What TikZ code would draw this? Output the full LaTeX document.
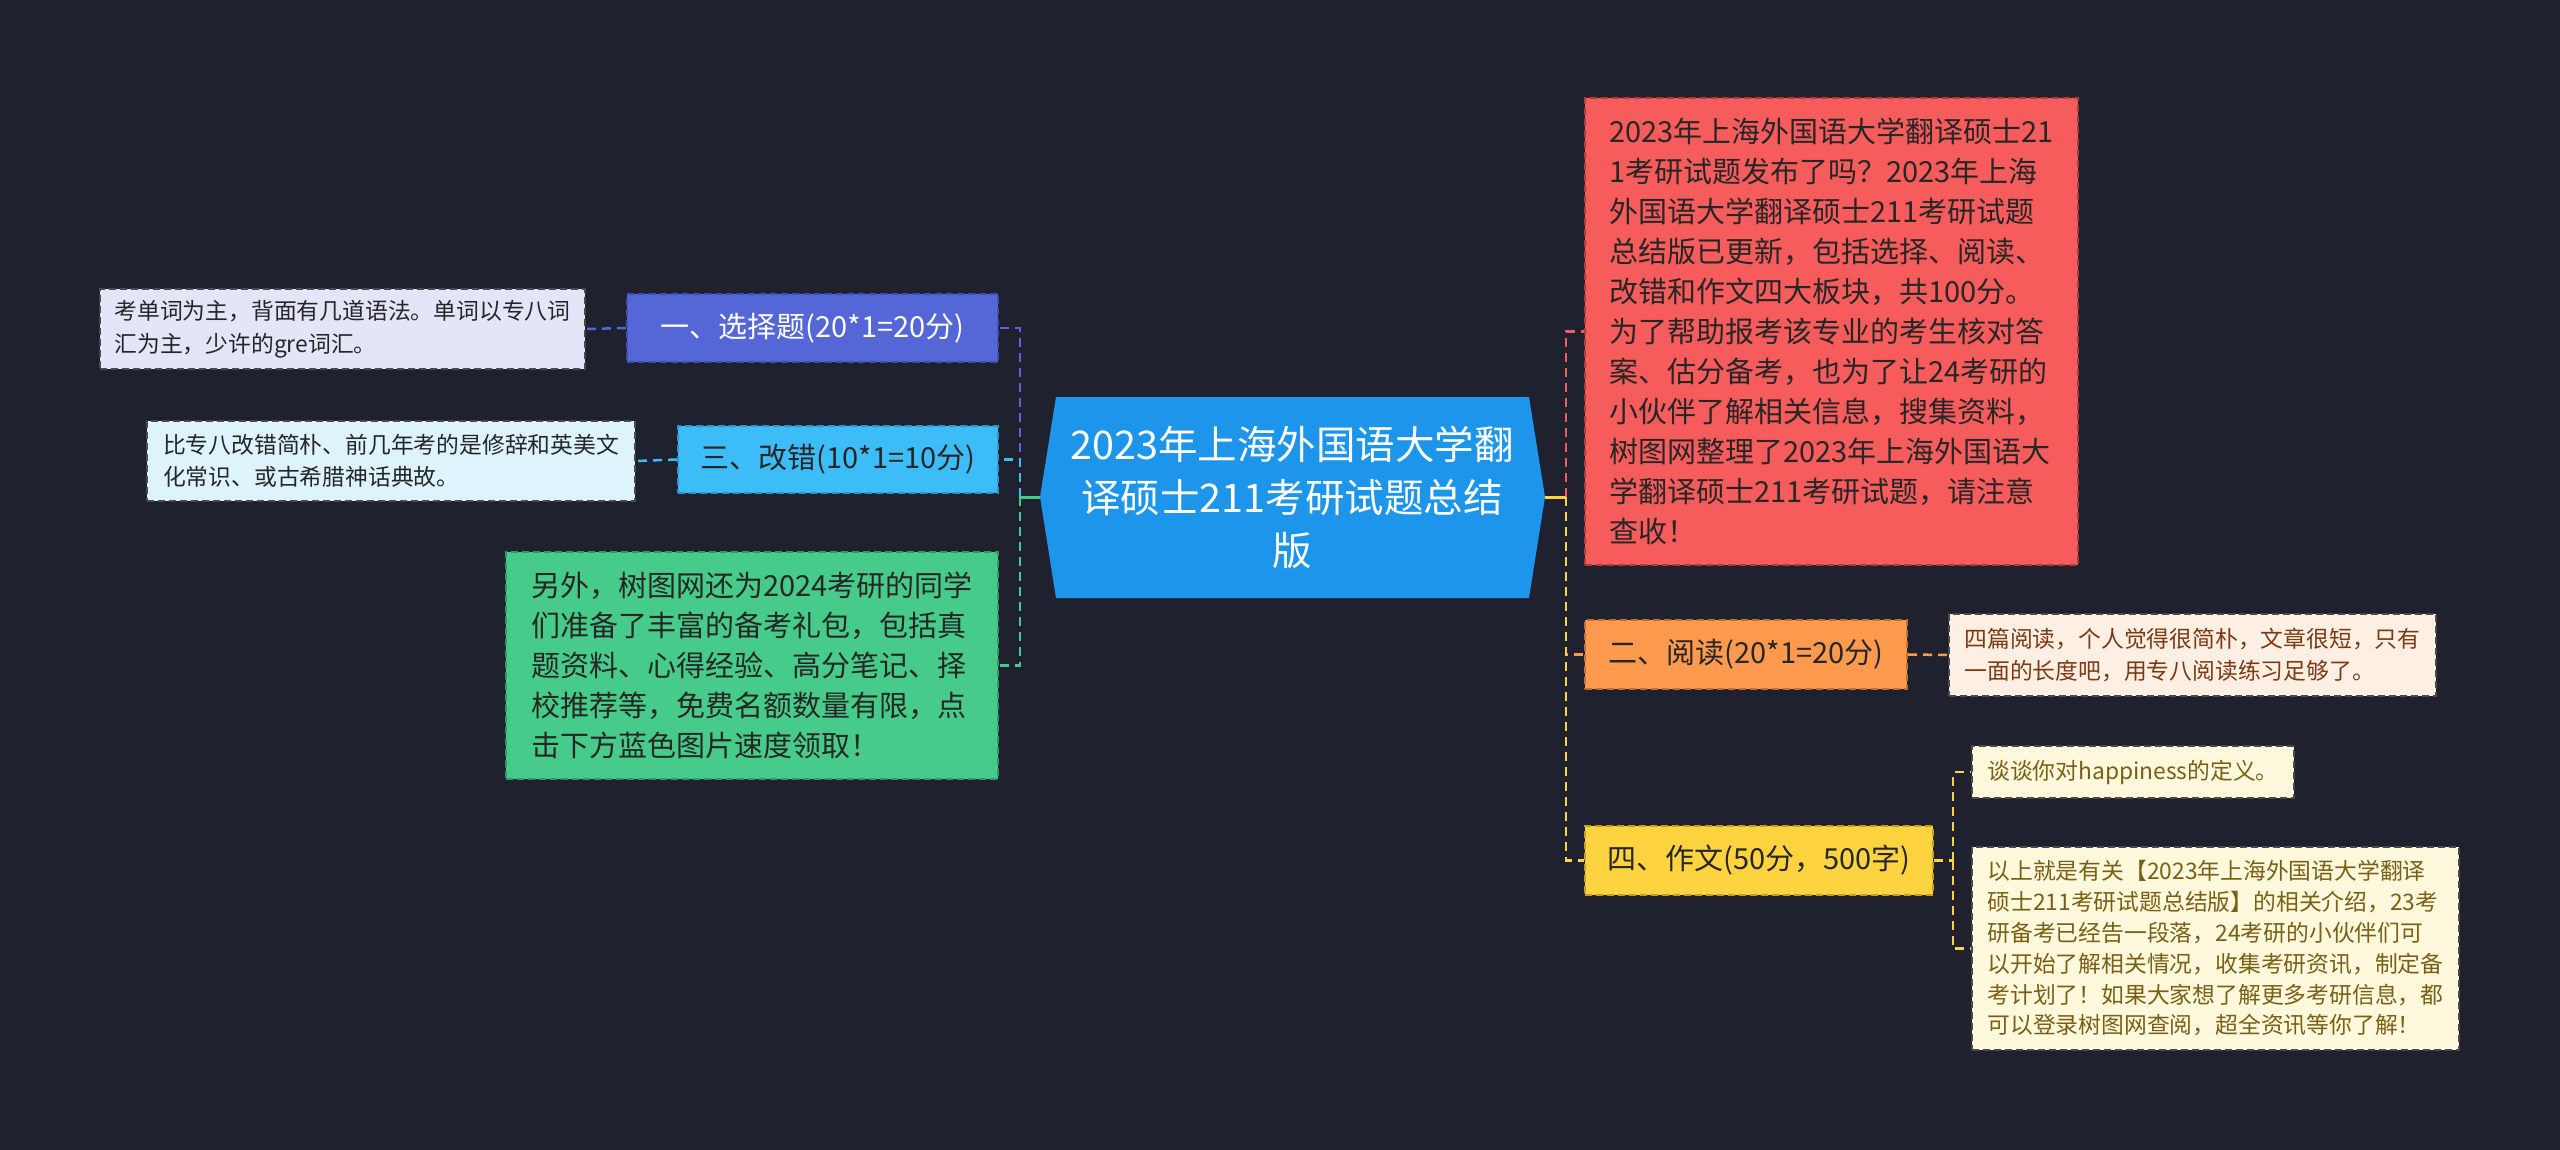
\documentclass[tikz,border=0pt]{standalone}
\usepackage{fontspec}
\setmainfont{Noto Sans CJK SC}
\definecolor{bgc}{HTML}{1F222E}
\definecolor{cfill}{HTML}{1C95EB}
\definecolor{aFill}{HTML}{5567D7}\definecolor{aLine}{HTML}{3D4FB0}\definecolor{aLeaf}{HTML}{E3E6F9}
\definecolor{bFill}{HTML}{3DBDF8}\definecolor{bLine}{HTML}{2C94C8}\definecolor{bLeaf}{HTML}{DEF4FD}
\definecolor{gFill}{HTML}{47CB8B}\definecolor{gLine}{HTML}{2E9A66}
\definecolor{rFill}{HTML}{F65C5C}\definecolor{rLine}{HTML}{B33A3A}
\definecolor{oFill}{HTML}{FD9A4E}\definecolor{oLine}{HTML}{C46F2E}\definecolor{oLeaf}{HTML}{FEEFE4}
\definecolor{yFill}{HTML}{FED340}\definecolor{yLine}{HTML}{C49F1E}\definecolor{yLeaf}{HTML}{FEF8DD}
\definecolor{leafLine}{HTML}{4A4A4A}
\newcommand\ftitle{\fontsize{39.5}{53}\selectfont}
\newcommand\fmainx{\fontsize{29}{40}\selectfont}
\newcommand\fleafx{\fontsize{22.8}{32.5}\selectfont}
\begin{document}
\begin{tikzpicture}[x=1pt,y=-1pt,
  box/.style={rectangle, inner sep=0pt, align=left, dash pattern=on 7pt off 4pt, line width=2pt},
  mainbox/.style={box, font=\fmainx},
  leafbox/.style={box, font=\fleafx, draw=leafLine},
  link/.style={line width=2.5pt, dash pattern=on 9pt off 6pt},
  stub/.style={line width=3pt}
]
\fill[bgc] (0,0) rectangle (2560,1150);
\useasboundingbox (0,0) rectangle (2560,1150);

% center
\coordinate (cL) at (1040,497);
\coordinate (cR) at (1545,497);
\fill[cfill] (cL) -- (1056,397) -- (1529,397) -- (cR) -- (1529,598) -- (1056,598) -- cycle;
\node[font=\ftitle, text=white, align=center] (c) at (1292,497)
  {2023年上海外国语大学翻\\译硕士211考研试题总结\\版};

% left side
\node[mainbox, fill=aFill, draw=aLine, text=white, minimum width=371pt, minimum height=68pt] (n1) at (812.5,328) {一、选择题(20*1=20分)};
\node[leafbox, fill=aLeaf, text=black!85, minimum width=485pt, minimum height=80pt] (l1) at (342.5,329)
  {考单词为主，背面有几道语法。单词以专八词\\汇为主，少许的gre词汇。};
\node[mainbox, fill=bFill, draw=bLine, text=black!85, minimum width=320pt, minimum height=67pt] (n3) at (838,459.5) {三、改错(10*1=10分)};
\node[leafbox, fill=bLeaf, text=black!85, minimum width=488pt, minimum height=80pt] (l3) at (391,461)
  {比专八改错简朴、前几年考的是修辞和英美文\\化常识、或古希腊神话典故。};
\node[mainbox, fill=gFill, draw=gLine, text=black!85, minimum width=492pt, minimum height=227pt] (g) at (752,665.5)
  {另外，树图网还为2024考研的同学\\们准备了丰富的备考礼包，包括真\\题资料、心得经验、高分笔记、择\\校推荐等，免费名额数量有限，点\\击下方蓝色图片速度领取！};

% right side
\node[mainbox, fill=rFill, draw=rLine, text=black!85, minimum width=493pt, minimum height=467pt] (r) at (1831.5,331.5)
  {2023年上海外国语大学翻译硕士21\\1考研试题发布了吗？2023年上海\\外国语大学翻译硕士211考研试题\\总结版已更新，包括选择、阅读、\\改错和作文四大板块，共100分。\\为了帮助报考该专业的考生核对答\\案、估分备考，也为了让24考研的\\小伙伴了解相关信息，搜集资料，\\树图网整理了2023年上海外国语大\\学翻译硕士211考研试题，请注意\\查收！};
\node[mainbox, fill=oFill, draw=oLine, text=black!85, minimum width=322pt, minimum height=69pt] (n2) at (1746,654.5) {二、阅读(20*1=20分)};
\node[leafbox, fill=oLeaf, text={rgb,255:red,122;green,58;blue,18}, minimum width=487pt, minimum height=82pt] (l2) at (2192.5,655)
  {四篇阅读，个人觉得很简朴，文章很短，只有\\一面的长度吧，用专八阅读练习足够了。};
\node[mainbox, fill=yFill, draw=yLine, text=black!85, minimum width=348pt, minimum height=69pt] (n4) at (1759,860.5) {四、作文(50分，500字)};
\node[leafbox, fill=yLeaf, text={rgb,255:red,122;green,96;blue,20}, minimum width=322pt, minimum height=52pt] (l4a) at (2133,772)
  {谈谈你对happiness的定义。};
\node[leafbox, fill=yLeaf, text={rgb,255:red,122;green,96;blue,20}, minimum width=487pt, minimum height=203pt, font=\fontsize{22.8}{30.8}\selectfont] (l4b) at (2215.5,948.5)
  {以上就是有关【2023年上海外国语大学翻译\\硕士211考研试题总结版】的相关介绍，23考\\研备考已经告一段落，24考研的小伙伴们可\\以开始了解相关情况，收集考研资讯，制定备\\考计划了！如果大家想了解更多考研信息，都\\可以登录树图网查阅，超全资讯等你了解！};

% connectors left
\coordinate (jL) at (1020,497);
\draw[link, aFill] (jL) |- (n1.east);
\draw[link, bFill] (jL) |- (n3.east);
\draw[link, gFill] (jL) |- (g.east);
\draw[stub, gFill] (cL) -- (jL);
\draw[link, aFill] (n1.west) -- (l1.east);
\draw[link, bFill] (n3.west) -- (l3.east);

% connectors right
\coordinate (jR) at (1566,497);
\draw[link, rFill] (jR) |- (r.west);
\draw[link, oFill] (jR) |- (n2.west);
\draw[link, yFill] (jR) |- (n4.west);
\draw[stub, yFill] (cR) -- (jR);
\draw[link, oFill] (n2.east) -- (l2.west);
\coordinate (j4) at (1953,860.5);
\draw[link, yFill] (n4.east) -- (j4);
\draw[link, yFill] (j4) |- (l4a.west);
\draw[link, yFill] (j4) |- (l4b.west);
\end{tikzpicture}
\end{document}
